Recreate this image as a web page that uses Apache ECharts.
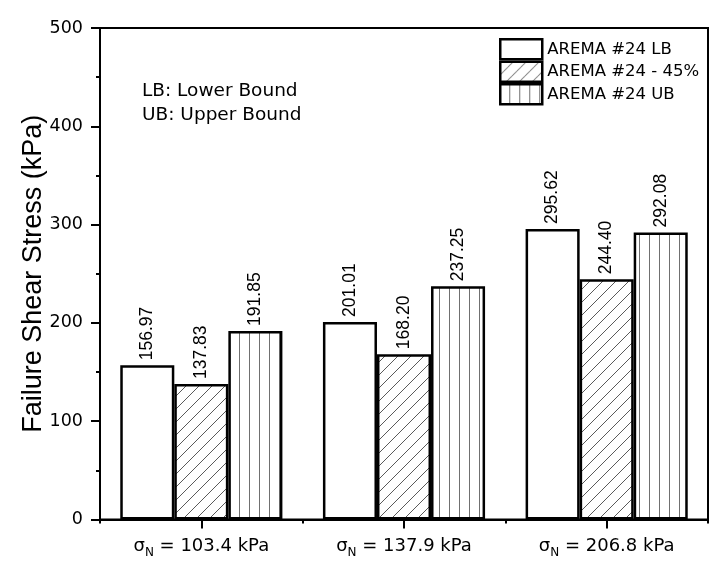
<!DOCTYPE html>
<html><head><meta charset="utf-8">
<script src="https://cdn.jsdelivr.net/npm/echarts@6/dist/echarts.min.js"></script>
<style>html,body{margin:0;padding:0;background:#fff}#c{width:711px;height:582px}</style>
</head><body><div id="c"></div>
<script>
// ---- data ----
const categories = ['103.4', '137.9', '206.8'];
const seriesNames = ['AREMA #24 LB', 'AREMA #24 - 45%', 'AREMA #24 UB'];
const lbValues = [156.97, 201.01, 295.62];
const pct45Values = [137.83, 168.20, 244.40];
const ubValues = [191.85, 237.25, 292.08];
const yTicks = [0, 100, 200, 300, 400, 500];
const notes = ['LB: Lower Bound', 'UB: Upper Bound'];

// ---- patterns ----
function diagPattern() {
  const s = 13, c = document.createElement('canvas');
  c.width = s; c.height = s;
  const g = c.getContext('2d');
  g.fillStyle = '#fff'; g.fillRect(0, 0, s, s);
  g.strokeStyle = '#5a5a5a'; g.lineWidth = 1;
  g.beginPath();
  g.moveTo(-1, s + 1); g.lineTo(s + 1, -1);
  g.moveTo(-2, 2); g.lineTo(2, -2);
  g.moveTo(s - 2, s + 2); g.lineTo(s + 2, s - 2);
  g.stroke();
  return c;
}
function vertPattern() {
  const w = 10, h = 10, c = document.createElement('canvas');
  c.width = w; c.height = h;
  const g = c.getContext('2d');
  g.fillStyle = '#fff'; g.fillRect(0, 0, w, h);
  g.fillStyle = '#707070'; g.fillRect(9, 0, 1, h);
  return c;
}
const fills = [
  '#ffffff',
  { image: diagPattern(), repeat: 'repeat' },
  { image: vertPattern(), repeat: 'repeat' }
];
const valueSets = [lbValues, pct45Values, ubValues];

const chart = echarts.init(document.getElementById('c'), null, { renderer: 'canvas' });

const series = seriesNames.map((name, i) => ({
  name: name,
  type: 'bar',
  xAxisIndex: 0,
  data: valueSets[i],
  barGap: '0%',
  barCategoryGap: '20%',
  itemStyle: { color: fills[i], borderColor: '#000', borderWidth: 2.5 },
  emphasis: { disabled: true },
  label: {
    show: true,
    position: 'top',
    rotate: 90,
    align: 'left',
    verticalAlign: 'middle',
    distance: 5,
    fontFamily: 'Liberation Sans',
    fontSize: 17.5,
    color: '#000',
    formatter: p => p.value.toFixed(2)
  }
}));

chart.setOption({
  backgroundColor: '#fff',
  animation: false,
  grid: {
    left: 100, top: 28, width: 608, bottom: 62.5,
    show: true, borderColor: '#000', borderWidth: 2, backgroundColor: 'transparent'
  },
  legend: {
    orient: 'vertical',
    left: 499, top: 38,
    padding: 0,
    itemWidth: 42, itemHeight: 20, itemGap: 0,
    icon: 'rect',
    selectedMode: false,
    data: seriesNames,
    itemStyle: { borderColor: '#000', borderWidth: 2.5 },
    textStyle: { fontFamily: 'DejaVu Sans', fontSize: 16.5, color: '#000' }
  },
  xAxis: [{
    type: 'category',
    data: categories,
    position: 'bottom',
    axisLine: { show: true, lineStyle: { color: '#000', width: 2 } },
    axisTick: { show: true, alignWithLabel: true, length: 9, lineStyle: { color: '#000', width: 2 } },
    axisLabel: {
      margin: 15,
      color: '#000',
      formatter: v => '{s|σ}{sub|N}{t| = ' + v + ' kPa}',
      rich: {
        s: { fontFamily: 'DejaVu Sans', fontSize: 18, lineHeight: 24, color: '#000' },
        t: { fontFamily: 'DejaVu Sans', fontSize: 18, lineHeight: 24, color: '#000' },
        sub: { fontFamily: 'DejaVu Sans', fontSize: 12, lineHeight: 12, verticalAlign: 'bottom', color: '#000' }
      }
    }
  }, {
    type: 'category',
    data: categories,
    position: 'bottom',
    axisLine: { show: false },
    axisTick: { show: true, alignWithLabel: false, length: 4, lineStyle: { color: '#000', width: 2 } },
    axisLabel: { show: false }
  }],
  yAxis: {
    type: 'value',
    min: yTicks[0],
    max: yTicks[yTicks.length - 1],
    interval: yTicks[1] - yTicks[0],
    name: 'Failure Shear Stress (kPa)',
    nameLocation: 'middle',
    nameGap: 53,
    nameMoveOverlap: false,
    nameRotate: 90,
    nameTextStyle: { fontFamily: 'Liberation Sans', fontSize: 27, color: '#000' },
    axisLine: { show: true, lineStyle: { color: '#000', width: 2 } },
    axisTick: { show: true, length: 9, lineStyle: { color: '#000', width: 2 } },
    minorTick: { show: true, splitNumber: 2, length: 4, lineStyle: { color: '#000', width: 2 } },
    splitLine: { show: false },
    axisLabel: { margin: 17, fontFamily: 'DejaVu Sans', fontSize: 17.5, color: '#000' }
  },
  graphic: notes.map((t, i) => ({
    type: 'text',
    left: 142,
    top: 82 + i * 24,
    style: { text: t, fontFamily: 'DejaVu Sans', fontSize: 18.5, fill: '#000' }
  })),
  series: series
});
</script>
</body></html>
